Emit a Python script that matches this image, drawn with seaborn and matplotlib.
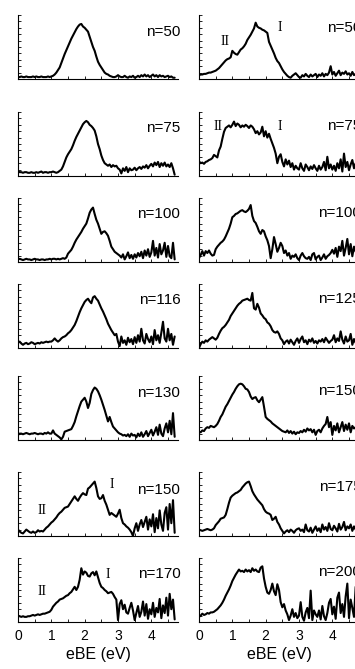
import numpy as np
import pandas as pd
import matplotlib
matplotlib.use('Agg')
import matplotlib.pyplot as plt
import seaborn as sns

sns.set_theme(style="white")
plt.rcParams['font.family'] = ['Liberation Sans', 'DejaVu Sans']
plt.rcParams['axes.linewidth'] = 0.8

# photoelectron spectra, intensity in % of panel height, sampled every 0.05 eV from 0 eV
step_ev = 0.05

left_n50 = [3, 3, 4, 3, 3, 4, 3, 3, 3, 4,
            3, 4, 3, 3, 4, 3, 3, 3, 4, 3,
            4, 5, 7, 10, 14, 18, 25, 32, 39, 45,
            51, 57, 63, 68, 73, 78, 82, 85, 86, 82,
            80, 77, 74, 66, 58, 50, 44, 35, 27, 22,
            18, 14, 10, 8, 7, 5, 4, 3, 3, 4,
            6, 4, 3, 3, 5, 3, 2, 4, 3, 5,
            2, 3, 5, 3, 6, 4, 7, 4, 6, 3,
            5, 7, 4, 6, 3, 6, 4, 5, 3, 4,
            5, 3, 4, 2, 2]
left_n75 = [7, 6, 6, 5, 6, 6, 5, 5, 6, 5,
            5, 6, 5, 6, 7, 5, 6, 6, 5, 6,
            6, 7, 6, 5, 6, 8, 10, 15, 22, 29,
            34, 38, 42, 48, 55, 61, 66, 71, 76, 81,
            84, 86, 84, 80, 78, 75, 71, 62, 50, 42,
            32, 25, 20, 18, 16, 18, 14, 17, 15, 16,
            12, 10, 4, 12, 8, 14, 6, 12, 9, 10,
            13, 9, 12, 14, 11, 15, 13, 17, 12, 16,
            19, 15, 21, 17, 22, 14, 20, 16, 21, 15,
            18, 14, 20, 12, 2]
left_n100 = [4, 5, 4, 3, 4, 5, 4, 4, 3, 4,
             5, 4, 4, 3, 4, 4, 3, 4, 4, 5,
             4, 5, 5, 4, 5, 4, 5, 6, 5, 7,
             13, 16, 19, 24, 30, 35, 39, 43, 47, 52,
             56, 60, 68, 77, 82, 85, 75, 66, 60, 52,
             44, 47, 48, 45, 41, 33, 24, 20, 16, 14,
             12, 10, 7, 12, 4, 9, 15, 6, 11, 5,
             12, 7, 14, 9, 16, 6, 18, 10, 20, 8,
             15, 33, 10, 22, 7, 28, 12, 18, 30, 8,
             25, 9, 6, 30, 4]
left_n116 = [8, 10, 7, 5, 7, 8, 6, 7, 9, 8,
             6, 7, 8, 7, 9, 8, 9, 10, 9, 10,
             10, 12, 15, 12, 10, 12, 15, 17, 18, 20,
             23, 25, 28, 32, 36, 42, 49, 56, 62, 67,
             72, 75, 77, 73, 70, 79, 81, 77, 74, 68,
             62, 57, 51, 45, 38, 33, 28, 24, 20, 22,
             10, 3, 18, 8, 12, 5, 16, 9, 14, 6,
             17, 8, 20, 10, 30, 12, 7, 22, 14, 9,
             18, 6, 28, 12, 20, 8, 24, 41, 15, 10,
             30, 12, 22, 5, 18]
left_n130 = [8, 10, 10, 9, 10, 11, 10, 9, 10, 10,
             11, 10, 9, 10, 10, 9, 11, 10, 12, 10,
             10, 15, 10, 8, 6, 4, 1, 5, 13, 14,
             15, 16, 17, 22, 28, 37, 45, 53, 60, 63,
             66, 60, 50, 58, 72, 78, 82, 80, 76, 70,
             63, 55, 47, 38, 29, 36, 28, 21, 18, 15,
             12, 10, 9, 7, 8, 6, 9, 5, 10, 7,
             8, 4, 10, 6, 12, 5, 9, 14, 6, 11,
             16, 7, 13, 20, 8, 24, 10, 6, 18, 26,
             12, 30, 9, 42, 5]
left_n150 = [10, 7, 5, 4, 7, 10, 8, 6, 5, 7,
             5, 6, 9, 7, 8, 7, 10, 13, 15, 18,
             21, 23, 26, 29, 33, 36, 38, 41, 44, 45,
             46, 50, 54, 58, 62, 58, 55, 60, 64, 67,
             65, 64, 74, 76, 79, 82, 85, 75, 62, 58,
             59, 64, 55, 49, 41, 33, 36, 34, 32, 30,
             35, 41, 28, 20, 18, 15, 13, 10, 6, 0,
             12, 20, 8, 18, 25, 14, 22, 30, 10, 26,
             15, 34, 6, 28, 12, 40, 18, 8, 36, 45,
             10, 50, 20, 56, 5]
left_n170 = [10, 9, 8, 9, 8, 8, 9, 9, 10, 11,
             10, 11, 12, 11, 12, 13, 13, 14, 15, 16,
             19, 24, 27, 30, 32, 35, 36, 37, 39, 41,
             42, 45, 47, 51, 55, 50, 55, 66, 84, 74,
             79, 77, 72, 71, 76, 78, 73, 79, 70, 61,
             55, 53, 50, 48, 45, 46, 47, 44, 39, 35,
             3, 28, 34, 20, 27, 15, 13, 22, 30, 18,
             3, 14, 25, 8, 16, 32, 10, 28, 5, 20,
             12, 30, 8, 22, 15, 36, 6, 26, 14, 38,
             10, 44, 20, 35, 4]

right_n50 = [6, 7, 7, 8, 8, 9, 10, 10, 11, 12,
             13, 15, 17, 20, 23, 26, 29, 31, 32, 34,
             44, 41, 39, 38, 42, 46, 48, 51, 55, 61,
             65, 69, 74, 79, 88, 82, 80, 79, 77, 76,
             74, 72, 58, 52, 46, 40, 33, 28, 25, 20,
             15, 11, 8, 5, 3, 2, 5, 7, 9, 6,
             3, 2, 6, 4, 8, 5, 3, 7, 4, 6,
             8, 3, 7, 5, 9, 4, 8, 6, 10, 20,
             7, 11, 5, 9, 13, 6, 10, 8, 12, 7,
             9, 5, 11, 6, 8]
right_n75 = [23, 20, 21, 19, 22, 23, 25, 26, 28, 33,
             31, 29, 40, 46, 58, 69, 75, 77, 79, 76,
             80, 85, 78, 82, 80, 76, 79, 77, 80, 78,
             75, 79, 77, 73, 67, 70, 65, 68, 77, 62,
             70, 60, 66, 58, 51, 44, 35, 20, 30, 34,
             22, 15, 26, 18, 24, 14, 20, 10, 16, 12,
             10, 20, 12, 8, 18, 14, 9, 15, 11, 17,
             12, 8, 16, 10, 14, 22, 9, 30, 12, 18,
             10, 16, 8, 20, 12, 26, 7, 35, 14, 22,
             9, 18, 25, 12, 20]
right_n100 = [6, 11, 17, 10, 17, 14, 18, 13, 10, 11,
              20, 24, 27, 30, 32, 35, 40, 46, 52, 60,
              70, 72, 75, 76, 78, 80, 81, 79, 78, 80,
              83, 89, 72, 64, 61, 55, 48, 44, 50, 48,
              40, 34, 25, 6, 20, 39, 28, 16, 22, 30,
              25, 14, 18, 10, 14, 5, 10, 8, 12, 6,
              3, 10, 14, 9, 6, 5, 8, 3, 12, 14,
              4, 8, 10, 3, 7, 12, 5, 9, 11, 14,
              19, 13, 22, 8, 24, 17, 33, 10, 22, 36,
              12, 28, 9, 24, 16]
right_n125 = [0, 6, 10, 8, 12, 10, 13, 15, 17, 15,
              13, 16, 22, 27, 31, 33, 36, 40, 44, 50,
              54, 58, 62, 66, 69, 71, 74, 75, 76, 77,
              75, 74, 86, 62, 60, 69, 63, 54, 51, 47,
              45, 40, 38, 34, 28, 25, 24, 26, 22, 15,
              12, 6, 10, 12, 7, 13, 9, 5, 11, 15,
              8, 14, 18, 9, 12, 6, 13, 10, 15, 8,
              11, 7, 12, 10, 14, 9, 16, 12, 8, 11,
              13, 20, 9, 15, 11, 26, 13, 7, 18, 10,
              12, 22, 5, 14, 8]
right_n150 = [13, 12, 15, 14, 18, 20, 19, 22, 21, 20,
              22, 25, 30, 36, 40, 46, 52, 56, 61, 66,
              71, 75, 80, 84, 87, 88, 87, 84, 80, 79,
              75, 68, 64, 66, 67, 62, 59, 63, 67, 52,
              36, 33, 31, 29, 26, 24, 22, 20, 18, 16,
              14, 13, 12, 15, 11, 14, 10, 13, 9, 12,
              11, 14, 12, 16, 13, 18, 15, 17, 12, 16,
              8, 14, 16, 12, 18, 22, 25, 36, 20, 28,
              8, 22, 15, 26, 12, 20, 28, 14, 24, 16,
              26, 12, 22, 18, 20]
right_n175 = [10, 9, 8, 9, 10, 11, 10, 9, 10, 12,
              17, 20, 23, 27, 28, 29, 33, 42, 52, 60,
              63, 65, 67, 68, 70, 72, 76, 79, 82, 84,
              85, 78, 70, 65, 61, 57, 54, 51, 48, 42,
              38, 36, 35, 33, 25, 27, 30, 22, 18, 12,
              8, 4, 7, 9, 6, 10, 8, 5, 9, 11,
              12, 8, 10, 6, 18, 9, 7, 13, 5, 10,
              15, 8, 12, 6, 18, 10, 14, 8, 20, 11,
              9, 16, 12, 7, 19, 10, 14, 22, 9, 15,
              12, 18, 8, 15, 10]
right_n200 = [8, 10, 13, 11, 12, 14, 13, 15, 15, 16,
              18, 20, 23, 26, 30, 35, 41, 46, 51, 57,
              64, 69, 74, 78, 82, 79, 80, 78, 82, 79,
              81, 78, 84, 80, 82, 79, 78, 85, 87, 68,
              55, 46, 44, 50, 60, 48, 42, 59, 50, 31,
              23, 28, 18, 12, 3, 10, 20, 8, 14, 6,
              10, 31, 8, 2, 15, 22, 6, 49, 3, 18,
              12, 8, 18, 4, 25, 9, 3, 14, 30, 36,
              12, 24, 5, 38, 46, 14, 28, 8, 40, 60,
              6, 35, 22, 8, 55]

left_labels = ['n=50', 'n=75', 'n=100', 'n=116', 'n=130', 'n=150', 'n=170']
right_labels = ['n=50', 'n=75', 'n=100', 'n=125', 'n=150', 'n=175', 'n=200']
left_spectra = [left_n50, left_n75, left_n100, left_n116, left_n130, left_n150, left_n170]
right_spectra = [right_n50, right_n75, right_n100, right_n125, right_n150, right_n175, right_n200]

# band markers: (column, row, text, eBE, height fraction)
band_col = [0, 0, 0, 0, 1, 1, 1, 1]
band_row = [5, 5, 6, 6, 0, 0, 1, 1]
band_text = ['II', 'I', 'II', 'I', 'II', 'I', 'II', 'I']
band_ebe = [0.72, 2.82, 0.73, 2.7, 0.78, 2.43, 0.57, 2.43]
band_frac = [0.40, 0.81, 0.48, 0.74, 0.58, 0.80, 0.77, 0.77]

W, H = 355, 669
fig = plt.figure(figsize=(W / 100, H / 100), dpi=100)
col_left = [18, 199]
panel_w = 160
row_bottom = [79, 176, 262, 348, 440, 536, 622]
panel_h = 64
label_frac = [[0.74, 0.75, 0.75, 0.75, 0.74, 0.72, 0.75],
              [0.80, 0.78, 0.76, 0.77, 0.77, 0.76, 0.78]]

axes = {}
for c, (names, spectra) in enumerate([(left_labels, left_spectra), (right_labels, right_spectra)]):
    for r in range(7):
        ax = fig.add_axes([col_left[c] / W, 1 - row_bottom[r] / H, panel_w / W, panel_h / H])
        axes[(c, r)] = ax
        y = np.array(spectra[r]) / 100.0
        df = pd.DataFrame({'ebe': np.arange(len(y)) * step_ev, 'intensity': y})
        sns.lineplot(data=df, x='ebe', y='intensity', ax=ax, color='black',
                     linewidth=1.5, estimator=None)
        ax.set_xlim(0, 4.8)
        ax.set_ylim(0, 1)
        ax.set_xlabel('')
        ax.set_ylabel('')
        for s in ['top', 'right']:
            ax.spines[s].set_visible(False)
        for s in ['left', 'bottom']:
            ax.spines[s].set_color('black')
            ax.spines[s].set_linewidth(0.8)
        ax.set_xticks([0, 1, 2, 3, 4])
        ax.set_xticks(np.arange(0.5, 4.8, 1.0), minor=True)
        ax.set_yticks(np.linspace(0.2, 1.0, 5))
        ax.set_yticks(np.linspace(0.1, 0.9, 5), minor=True)
        ax.tick_params(which='both', direction='in', length=2, width=0.6, colors='black',
                       left=True, bottom=True, labelleft=False)
        ax.text(1.015, label_frac[c][r], names[r], transform=ax.transAxes,
                ha='right', va='center', fontsize=11, color='black')
        if r == 6:
            ax.tick_params(axis='x', labelbottom=True, labelsize=10, pad=5)
            ax.set_xlabel('eBE (eV)', fontsize=11.5, labelpad=3, color='black')
        else:
            ax.tick_params(axis='x', labelbottom=False)

for c, r, t, xe, yf in zip(band_col, band_row, band_text, band_ebe, band_frac):
    ax = axes[(c, r)]
    ax.text(xe, yf, t, transform=ax.get_xaxis_transform(), ha='center', va='center',
            fontsize=10, family=['Liberation Serif', 'DejaVu Serif'], color='black')

fig.savefig('out.png', dpi=100)
